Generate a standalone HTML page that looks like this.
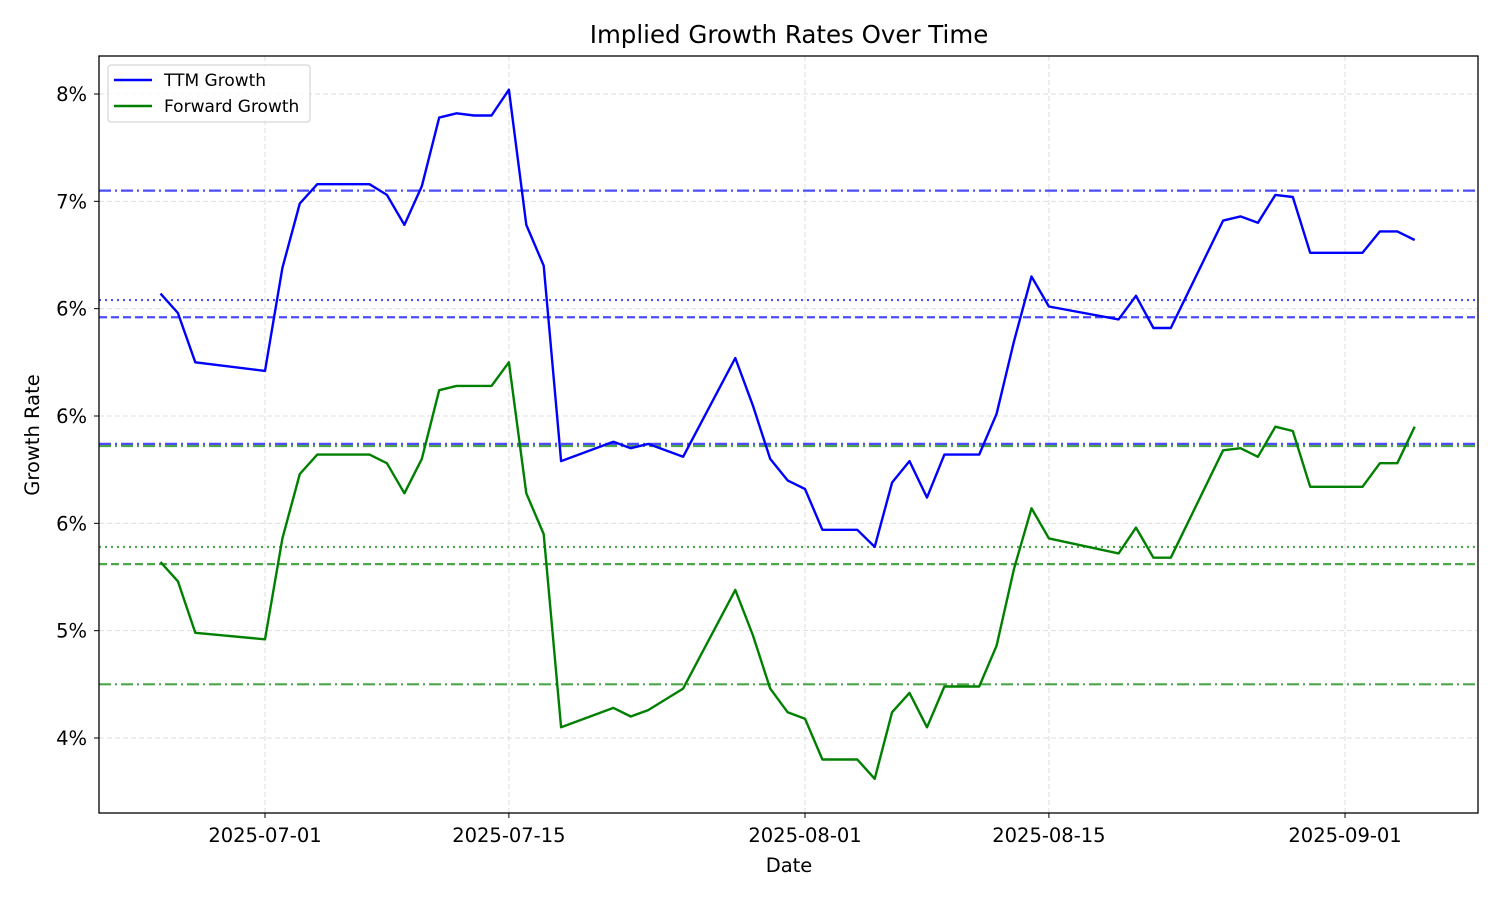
<!DOCTYPE html>
<html><head><meta charset="utf-8"><style>
body{margin:0;background:#fff;}
svg{display:block;font-family:"DejaVu Sans","Liberation Sans",sans-serif;}
</style></head><body>
<svg id="chart" width="1500" height="900"></svg>
<script>
const dayOffsets = [-6,-5,-4,0,1,2,3,6,7,8,9,10,11,12,13,14,15,16,17,20,21,22,24,27,28,29,30,31,32,34,35,36,37,38,39,41,42,43,44,45,49,50,51,52,55,56,57,58,59,60,63,64,65,66];
const ttmValues = [6.07,5.98,5.75,5.71,6.19,6.49,6.58,6.58,6.53,6.39,6.57,6.89,6.91,6.90,6.90,7.02,6.39,6.20,5.29,5.38,5.35,5.37,5.31,5.77,5.55,5.30,5.20,5.16,4.97,4.97,4.89,5.19,5.29,5.12,5.32,5.32,5.51,5.85,6.15,6.01,5.95,6.06,5.91,5.91,6.41,6.43,6.40,6.53,6.52,6.26,6.26,6.36,6.36,6.32];
const fwdValues = [4.82,4.73,4.49,4.46,4.93,5.23,5.32,5.32,5.28,5.14,5.30,5.62,5.64,5.64,5.64,5.75,5.14,4.95,4.05,4.14,4.10,4.13,4.23,4.69,4.48,4.23,4.12,4.09,3.90,3.90,3.81,4.12,4.21,4.05,4.24,4.24,4.43,4.79,5.07,4.93,4.86,4.98,4.84,4.84,5.34,5.35,5.31,5.45,5.43,5.17,5.17,5.28,5.28,5.45];
const yTickValues = [4.0,4.5,5.0,5.5,6.0,6.5,7.0];
const yTickLabels = ['4%','5%','6%','6%','6%','7%','8%'];
const xTickDays = [0,14,31,45,62];
const xTickLabels = ['2025-07-01','2025-07-15','2025-08-01','2025-08-15','2025-09-01'];
const ttmRefValues = [6.55,6.04,5.96,5.37];
const fwdRefValues = [5.36,4.89,4.81,4.25];
const refDashes = ['12,4,2,4','2,4','8,4','12,4,2,4'];

const NS='http://www.w3.org/2000/svg';
const svg=document.getElementById('chart');
const L=99,R=1478,T=56,B=813;
const xs=d=>265+d*17.42;
const ys=v=>738-(v-4)*214.67;
function mk(tag,attrs,parent){const e=document.createElementNS(NS,tag);for(const k in attrs)e.setAttribute(k,attrs[k]);(parent||svg).appendChild(e);return e;}

const grid=mk('g',{});


xTickDays.forEach((d,i)=>{
  const x=xs(d);
  const g=mk('line',{x1:x,x2:x,y1:T,y2:B,stroke:'#ddd','stroke-dasharray':'5,3','stroke-width':1},grid);
  
  
  const t=mk('line',{x1:x,x2:x,y1:B,y2:B+5,stroke:'#000'});
  
  
  const tx=mk('text',{x:x,y:B+29,'text-anchor':'middle','font-size':19.5,fill:'#000'});
  tx.textContent=xTickLabels[i];
  
  
});
yTickValues.forEach((v,i)=>{
  const y=ys(v);
  const g=mk('line',{x1:L,x2:R,y1:y,y2:y,stroke:'#ddd','stroke-dasharray':'5,3','stroke-width':1},grid);
  
  
  const t=mk('line',{x1:L-5,x2:L,y1:y,y2:y,stroke:'#000'});
  
  
  const tx=mk('text',{x:L-12,y:y+7,'text-anchor':'end','font-size':19.5,fill:'#000'});
  tx.textContent=yTickLabels[i];
  
  
});
function refs(vals,color,name){
  vals.forEach((v,i)=>{
    const l=mk('line',{x1:L,x2:R,y1:ys(v),y2:ys(v),stroke:color,'stroke-opacity':0.7,'stroke-width':2.2,'stroke-dasharray':refDashes[i]});
    
    
  });
}
refs(ttmRefValues,'#0000ff','ttm-reference-line');
refs(fwdRefValues,'#008000','forward-reference-line');
function series(vals,color,name){
  const pts=vals.map((v,i)=>xs(dayOffsets[i]).toFixed(1)+','+ys(v).toFixed(1)).join(' ');
  const p=mk('polyline',{points:pts,fill:'none',stroke:color,'stroke-width':2.4,'stroke-linejoin':'round'});
  
  
}
series(ttmValues,'#0000ff','ttm-growth-line');
series(fwdValues,'#008000','forward-growth-line');
const frame=mk('rect',{x:L,y:T,width:R-L,height:B-T,fill:'none',stroke:'#000','stroke-width':1.3});


const title=mk('text',{x:789,y:43,'text-anchor':'middle','font-size':24.5,fill:'#000'});
title.textContent='Implied Growth Rates Over Time';


const xt=mk('text',{x:789,y:872,'text-anchor':'middle','font-size':19.5,fill:'#000'});
xt.textContent='Date';


const yt=mk('text',{x:39,y:435,'text-anchor':'middle','font-size':19.5,fill:'#000',transform:'rotate(-90 39 435)'});
yt.textContent='Growth Rate';


const lg=mk('g',{});


mk('rect',{x:108,y:65,width:202,height:57,rx:3,fill:'#fff','fill-opacity':0.8,stroke:'#ccc'},lg);
[['TTM Growth','#0000ff',80],['Forward Growth','#008000',106]].forEach(([n,c,y])=>{
  const e=mk('g',{},lg);
  
  
  mk('line',{x1:114,x2:152,y1:y,y2:y,stroke:c,'stroke-width':2.4},e);
  const t=mk('text',{x:164,y:y+6,'font-size':17,fill:'#000'},e);
  t.textContent=n;
});
</script>
</body></html>
